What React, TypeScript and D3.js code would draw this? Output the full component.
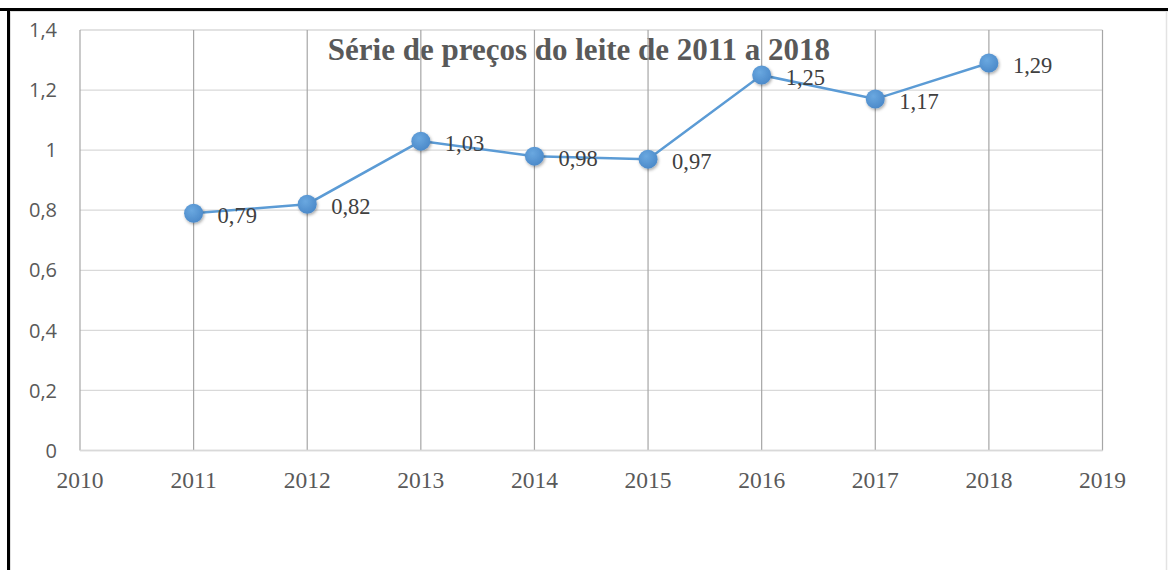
import React from "react";
import * as d3 from "d3";

const years = [2011, 2012, 2013, 2014, 2015, 2016, 2017, 2018];
const prices = [0.79, 0.82, 1.03, 0.98, 0.97, 1.25, 1.17, 1.29];
const xTicks = [2010, 2011, 2012, 2013, 2014, 2015, 2016, 2017, 2018, 2019];
const yTicks = [0, 0.2, 0.4, 0.6, 0.8, 1, 1.2, 1.4];
const title = "Série de preços do leite de 2011 a 2018";

const W = 1168;
const H = 570;

export default function App() {
  const x = d3.scaleLinear().domain([2010, 2019]).range([80, 1102.5]);
  const y = d3.scaleLinear().domain([0, 1.4]).range([450.5, 30]);
  const fmt = (v: number) => {
    const s = d3.format("~g")(v);
    return s.replace(".", ",");
  };
  const fmt2 = (v: number) => d3.format(".2f")(v).replace(".", ",");
  const line = d3
    .line<number>()
    .x((_, i) => x(years[i]))
    .y((d) => y(d));
  const serif = "'Liberation Serif', 'Times New Roman', serif";
  const sans = "'Open Sans', 'Liberation Sans', sans-serif";

  return (
    <svg
      width={W}
      height={H}
      style={{ position: "absolute", left: 0, top: 0, background: "#fff" }}
    >
      <defs>
        <filter id="sh" x="-50%" y="-50%" width="200%" height="200%">
          <feDropShadow dx="1" dy="1.5" stdDeviation="1.5" floodColor="#000" floodOpacity="0.35" />
        </filter>
        <radialGradient id="mk" cx="40%" cy="35%" r="70%">
          <stop offset="0%" stopColor="#6aa8e0" />
          <stop offset="100%" stopColor="#4a88c8" />
        </radialGradient>
      </defs>
      <rect x={0} y={0} width={W} height={H} fill="#fff" />
      {/* frame */}
      <rect x={0} y={8} width={W} height={3} fill="#000" />
      <rect x={7} y={8} width={3} height={H - 8} fill="#000" />
      <line x1={10} x2={W} y1={11.5} y2={11.5} stroke="#e0e0e0" strokeWidth={1} />
      <line x1={10.5} x2={10.5} y1={11} y2={H} stroke="#e0e0e0" strokeWidth={1} />
      <line x1={1166.5} x2={1166.5} y1={11} y2={H} stroke="#e3e3e3" strokeWidth={1.5} />

      {/* title */}
      <text
        x={579}
        y={60}
        textAnchor="middle"
        fontFamily={serif}
        fontWeight="bold"
        fontSize={31}
        fill="#595959"
      >
        {title}
      </text>

      {/* horizontal gridlines */}
      {yTicks.map((t) => (
        <line
          key={"h" + t}
          x1={x(2010)}
          x2={x(2019)}
          y1={y(t)}
          y2={y(t)}
          stroke="#d9d9d9"
          strokeWidth={1.3}
        />
      ))}
      {/* vertical gridlines */}
      {xTicks.map((t) => (
        <line
          key={"v" + t}
          x1={x(t)}
          x2={x(t)}
          y1={y(1.4)}
          y2={y(0)}
          stroke="#a6a6a6"
          strokeWidth={1.2}
        />
      ))}
      <line x1={x(2010)} x2={x(2019)} y1={y(0)} y2={y(0)} stroke="#d9d9d9" strokeWidth={1.3} />

      {/* y tick labels */}
      {yTicks.map((t) => (
        <text
          key={"yl" + t}
          x={57}
          y={y(t)}
          dy="0.36em"
          textAnchor="end"
          fontFamily={sans}
          fontSize={20}
          fill="#595959"
        >
          {fmt(t)}
        </text>
      ))}
      {/* x tick labels */}
      {xTicks.map((t) => (
        <text
          key={"xl" + t}
          x={x(t)}
          y={488}
          textAnchor="middle"
          fontFamily={serif}
          fontSize={23.5}
          fill="#595959"
        >
          {t}
        </text>
      ))}

      {/* line */}
      <path d={line(prices) || ""} fill="none" stroke="#5b9bd5" strokeWidth={2.5} />
      {prices.map((v, i) => (
        <circle
          key={"m" + i}
          cx={x(years[i])}
          cy={y(v)}
          r={9.5}
          fill="url(#mk)"
          filter="url(#sh)"
        />
      ))}
      {/* data labels */}
      {prices.map((v, i) => (
        <text
          key={"dl" + i}
          x={x(years[i]) + 24}
          y={y(v) + 10}
          fontFamily={serif}
          fontSize={22.5}
          fill="#404040"
        >
          {fmt2(v)}
        </text>
      ))}
    </svg>
  );
}
